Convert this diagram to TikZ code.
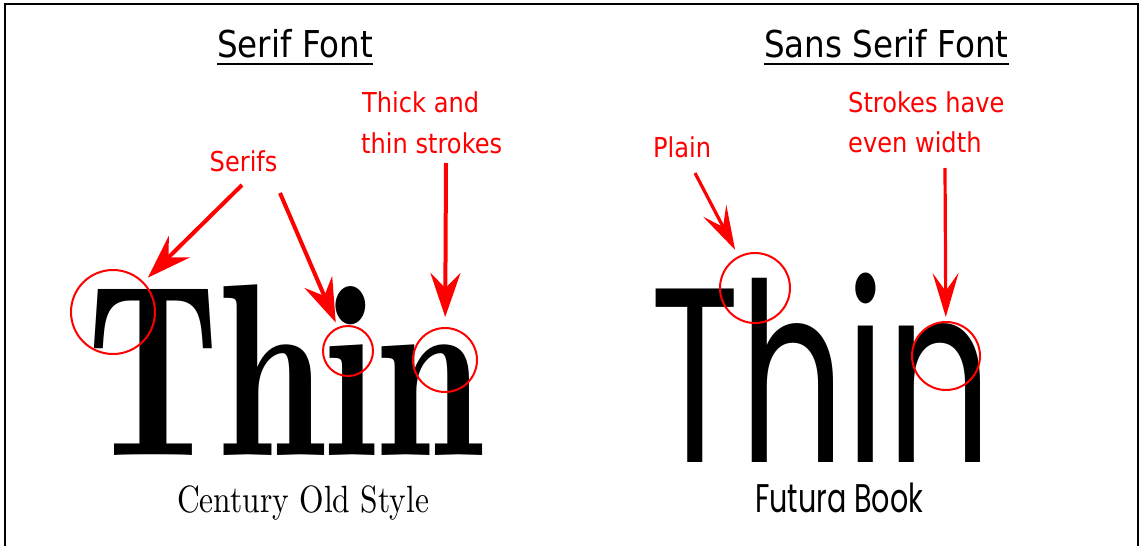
\documentclass[tikz,border=0pt]{standalone}
\usepackage{fontspec}
\usepackage{graphicx}
\usetikzlibrary{arrows.meta}
\newfontfamily\lblfont[FakeStretch=0.88]{DejaVu Sans}
\newfontfamily\serifbig{lmromandemi10-regular.otf}
\newfontfamily\serifcap{lmroman10-regular.otf}
\newfontfamily\futfont{Poppins}
\newsavebox\fitbox
\newcommand\fitto[2]{\sbox\fitbox{#2}\pgfmathsetmacro\fitratio{#1/\the\wd\fitbox}\scalebox{\fitratio}[1]{\usebox\fitbox}}
\definecolor{redlbl}{RGB}{255,0,0}
\begin{document}
\begin{tikzpicture}[x=1pt,y=-1pt,
  title/.style={anchor=base west,inner sep=0pt,font=\lblfont\fontsize{37}{37}\selectfont},
  lbl/.style={anchor=base west,inner sep=0pt,text=redlbl,font=\lblfont\fontsize{27.4}{27.4}\selectfont},
  big/.style={anchor=base west,inner sep=0pt},
  ring/.style={circle,draw=redlbl,line width=2pt,inner sep=0pt},
  arrS/.style={draw=redlbl,line width=4pt,-{Stealth[length=44pt,width=30pt,inset=15pt]}},
  arrT/.style={draw=redlbl,line width=3.2pt,-{Stealth[length=44pt,width=26pt,inset=18pt]}},
  frame/.style={line width=2.5pt,black}]
\useasboundingbox (0,0) rectangle (1146,546);
\draw[frame] (5,548) -- (5,4) -- (1138,4) -- (1138,548);

% titles
\node[title] (t1) at (217,57) {Serif Font};
\node[title] (t2) at (764,57) {Sans Serif Font};
\draw[line width=2.2pt] ([yshift=-7pt]t1.base west) -- ([yshift=-7pt]t1.base east);
\draw[line width=2.2pt] ([yshift=-7pt]t2.base west) -- ([yshift=-7pt]t2.base east);

% big words
\node[big] (sthin) at (87,455) {\fitto{396pt}{\serifbig\fontsize{246}{246}\selectfont Thin}};
\node[big] (fthin) at (650,462) {\fitto{342pt}{\futfont\fontsize{249}{249}\selectfont Thin}};
\node[big] (scap) at (177,512) {\fitto{252pt}{\serifcap\fontsize{38}{38}\selectfont Century Old Style}};
\node[big] (fcap) at (755,512) {\fitto{168pt}{\futfont\fontsize{40}{40}\selectfont Futura Book}};

% red labels
\node[lbl] (serifs) at (209.5,171) {Serifs};
\node[lbl] (thick1) at (362,112) {Thick and};
\node[lbl] (thick2) at (361,153) {thin strokes};
\node[lbl] (plain) at (653,157) {Plain};
\node[lbl] (even1) at (848,112) {Strokes have};
\node[lbl] (even2) at (848,152) {even width};

% rings
\node[ring,minimum size=84pt] (c1) at (113,312) {};
\node[ring,minimum size=50pt] (c2) at (348,351) {};
\node[ring,minimum size=64pt] (c3) at (445,360) {};
\node[ring,minimum size=70pt] (c4) at (755,288) {};
\node[ring,minimum size=68pt] (c5) at (946,356) {};

% arrow starts
\coordinate (a1) at (242,185);
\coordinate (a2) at (280,193);
\coordinate (a3) at (446,163);
\coordinate (a4) at (695,173);
\coordinate (a5) at (945,168);

\draw[arrS,shorten >=6pt] (a1) -- (c1);
\draw[arrS,shorten >=5pt] (a2) -- (c2);
\draw[arrS,shorten >=10pt] (a3) -- (c3);
\draw[arrT,shorten >=7pt] (a4) -- (c4);
\draw[arrT,shorten >=4pt] (a5) -- (c5);
\end{tikzpicture}
\end{document}
